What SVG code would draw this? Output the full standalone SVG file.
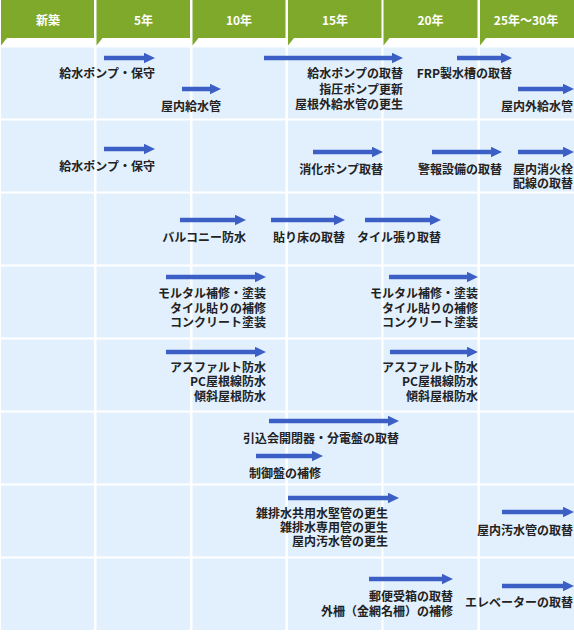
<svg xmlns="http://www.w3.org/2000/svg" width="574" height="632" viewBox="0 0 574 632">
<style>
.hd{fill:#7fa92b}
.cell{fill:#e2f0fd}
.ht{font-family:"Noto Sans CJK JP","Noto Sans",sans-serif;font-size:12px;font-weight:700;fill:#fff;text-anchor:middle}
.lb{font-family:"Noto Sans CJK JP","Noto Sans",sans-serif;font-size:12px;font-weight:700;fill:#222;text-anchor:end}
.ar{stroke:#3b5fc4;stroke-width:4.5;fill:none;marker-end:url(#ah)}
</style>
<defs>
<marker id="ah" markerUnits="userSpaceOnUse" markerWidth="11" markerHeight="11" refX="0" refY="5.25" orient="auto">
<path d="M0,0 L11,5.25 L0,10.5 z" fill="#3b5fc4"/>
</marker>
</defs>
<rect width="574" height="632" fill="#fff"/>
<g id="header">
<rect class="hd" x="1" y="0" width="93" height="38"/>
<rect class="hd" x="96.5" y="0" width="93.5" height="38"/>
<rect class="hd" x="192.5" y="0" width="93" height="38"/>
<rect class="hd" x="288" y="0" width="93.5" height="38"/>
<rect class="hd" x="383.5" y="0" width="94" height="38"/>
<rect class="hd" x="480" y="0" width="94" height="38"/>
<path class="hd" d="M1,38 h6 l-6,7.5 z M96.5,38 h6 l-6,7.5 z M192.5,38 h6 l-6,7.5 z M288,38 h6 l-6,7.5 z M383.5,38 h6 l-6,7.5 z M480,38 h6 l-6,7.5 z"/>
<text class="ht" x="48" y="25">新築</text>
<text class="ht" x="143.5" y="25">5年</text>
<text class="ht" x="239" y="25">10年</text>
<text class="ht" x="335" y="25">15年</text>
<text class="ht" x="430.5" y="25">20年</text>
<text class="ht" x="526" y="25">25年～30年</text>
</g>
<g id="grid">
<g id="row1"><rect class="cell" x="1" y="47.5" width="93" height="71"/><rect class="cell" x="96.5" y="47.5" width="93.5" height="71"/><rect class="cell" x="192.5" y="47.5" width="93" height="71"/><rect class="cell" x="288" y="47.5" width="93.5" height="71"/><rect class="cell" x="383.5" y="47.5" width="94" height="71"/><rect class="cell" x="480" y="47.5" width="94" height="71"/></g>
<g id="row2"><rect class="cell" x="1" y="120.5" width="93" height="71"/><rect class="cell" x="96.5" y="120.5" width="93.5" height="71"/><rect class="cell" x="192.5" y="120.5" width="93" height="71"/><rect class="cell" x="288" y="120.5" width="93.5" height="71"/><rect class="cell" x="383.5" y="120.5" width="94" height="71"/><rect class="cell" x="480" y="120.5" width="94" height="71"/></g>
<g id="row3"><rect class="cell" x="1" y="193.5" width="93" height="71"/><rect class="cell" x="96.5" y="193.5" width="93.5" height="71"/><rect class="cell" x="192.5" y="193.5" width="93" height="71"/><rect class="cell" x="288" y="193.5" width="93.5" height="71"/><rect class="cell" x="383.5" y="193.5" width="94" height="71"/><rect class="cell" x="480" y="193.5" width="94" height="71"/></g>
<g id="row4"><rect class="cell" x="1" y="266.5" width="93" height="71"/><rect class="cell" x="96.5" y="266.5" width="93.5" height="71"/><rect class="cell" x="192.5" y="266.5" width="93" height="71"/><rect class="cell" x="288" y="266.5" width="93.5" height="71"/><rect class="cell" x="383.5" y="266.5" width="94" height="71"/><rect class="cell" x="480" y="266.5" width="94" height="71"/></g>
<g id="row5"><rect class="cell" x="1" y="339.5" width="93" height="71"/><rect class="cell" x="96.5" y="339.5" width="93.5" height="71"/><rect class="cell" x="192.5" y="339.5" width="93" height="71"/><rect class="cell" x="288" y="339.5" width="93.5" height="71"/><rect class="cell" x="383.5" y="339.5" width="94" height="71"/><rect class="cell" x="480" y="339.5" width="94" height="71"/></g>
<g id="row6"><rect class="cell" x="1" y="412.5" width="93" height="71"/><rect class="cell" x="96.5" y="412.5" width="93.5" height="71"/><rect class="cell" x="192.5" y="412.5" width="93" height="71"/><rect class="cell" x="288" y="412.5" width="93.5" height="71"/><rect class="cell" x="383.5" y="412.5" width="94" height="71"/><rect class="cell" x="480" y="412.5" width="94" height="71"/></g>
<g id="row7"><rect class="cell" x="1" y="485.5" width="93" height="71"/><rect class="cell" x="96.5" y="485.5" width="93.5" height="71"/><rect class="cell" x="192.5" y="485.5" width="93" height="71"/><rect class="cell" x="288" y="485.5" width="93.5" height="71"/><rect class="cell" x="383.5" y="485.5" width="94" height="71"/><rect class="cell" x="480" y="485.5" width="94" height="71"/></g>
<g id="row8"><rect class="cell" x="1" y="558.5" width="93" height="71.5"/><rect class="cell" x="96.5" y="558.5" width="93.5" height="71.5"/><rect class="cell" x="192.5" y="558.5" width="93" height="71.5"/><rect class="cell" x="288" y="558.5" width="93.5" height="71.5"/><rect class="cell" x="383.5" y="558.5" width="94" height="71.5"/><rect class="cell" x="480" y="558.5" width="94" height="71.5"/></g>
</g>
<g id="connectors">
<line class="ar" x1="104" y1="58" x2="144" y2="58"/>
<line class="ar" x1="182" y1="89" x2="210" y2="89"/>
<line class="ar" x1="264" y1="58" x2="392" y2="58"/>
<line class="ar" x1="457" y1="58" x2="501" y2="58"/>
<line class="ar" x1="518" y1="89" x2="563" y2="89"/>
<line class="ar" x1="104" y1="149" x2="144" y2="149"/>
<line class="ar" x1="313" y1="152" x2="372" y2="152"/>
<line class="ar" x1="432" y1="152" x2="491" y2="152"/>
<line class="ar" x1="518" y1="152" x2="563" y2="152"/>
<line class="ar" x1="180" y1="220" x2="235" y2="220"/>
<line class="ar" x1="271" y1="220" x2="334" y2="220"/>
<line class="ar" x1="365" y1="220" x2="430" y2="220"/>
<line class="ar" x1="166" y1="277" x2="255" y2="277"/>
<line class="ar" x1="389" y1="277" x2="467" y2="277"/>
<line class="ar" x1="166" y1="352" x2="255" y2="352"/>
<line class="ar" x1="390" y1="352" x2="467" y2="352"/>
<line class="ar" x1="269" y1="421" x2="388" y2="421"/>
<line class="ar" x1="256" y1="456" x2="312" y2="456"/>
<line class="ar" x1="288" y1="498" x2="388" y2="498"/>
<line class="ar" x1="502" y1="512" x2="563" y2="512"/>
<line class="ar" x1="369" y1="579" x2="442" y2="579"/>
<line class="ar" x1="502" y1="586" x2="563" y2="586"/>
</g>
<g id="labels">
<g id="n1"><text class="lb" x="155" y="78">給水ポンプ・保守</text></g>
<g id="n2"><text class="lb" x="221" y="111">屋内給水管</text></g>
<g id="n3"><text class="lb" x="403" y="78">給水ポンプの取替</text><text class="lb" x="403" y="93.5">指圧ポンプ更新</text><text class="lb" x="403" y="109">屋根外給水管の更生</text></g>
<g id="n4"><text class="lb" x="512" y="78">FRP製水槽の取替</text></g>
<g id="n5"><text class="lb" x="573" y="110.5">屋内外給水管</text></g>
<g id="n6"><text class="lb" x="155" y="171">給水ポンプ・保守</text></g>
<g id="n7"><text class="lb" x="383" y="173.5">消化ポンプ取替</text></g>
<g id="n8"><text class="lb" x="502" y="173.5">警報設備の取替</text></g>
<g id="n9"><text class="lb" x="573" y="173.5">屋内消火栓</text><text class="lb" x="573" y="188">配線の取替</text></g>
<g id="n10"><text class="lb" x="246" y="241.5">バルコニー防水</text></g>
<g id="n11"><text class="lb" x="345" y="241.5">貼り床の取替</text></g>
<g id="n12"><text class="lb" x="441" y="241.5">タイル張り取替</text></g>
<g id="n13"><text class="lb" x="266" y="297.5">モルタル補修・塗装</text><text class="lb" x="266" y="312.5">タイル貼りの補修</text><text class="lb" x="266" y="327">コンクリート塗装</text></g>
<g id="n14"><text class="lb" x="478" y="297.5">モルタル補修・塗装</text><text class="lb" x="478" y="312.5">タイル貼りの補修</text><text class="lb" x="478" y="327">コンクリート塗装</text></g>
<g id="n15"><text class="lb" x="266" y="371.5">アスファルト防水</text><text class="lb" x="266" y="386">PC屋根線防水</text><text class="lb" x="266" y="401">傾斜屋根防水</text></g>
<g id="n16"><text class="lb" x="478" y="371.5">アスファルト防水</text><text class="lb" x="478" y="386">PC屋根線防水</text><text class="lb" x="478" y="401">傾斜屋根防水</text></g>
<g id="n17"><text class="lb" x="399" y="442.5">引込会開閉器・分電盤の取替</text></g>
<g id="n18"><text class="lb" x="321" y="478">制御盤の補修</text></g>
<g id="n19"><text class="lb" x="388" y="517.5">雑排水共用水堅管の更生</text><text class="lb" x="388" y="531.5">雑排水専用管の更生</text><text class="lb" x="388" y="546">屋内汚水管の更生</text></g>
<g id="n20"><text class="lb" x="573" y="535">屋内汚水管の取替</text></g>
<g id="n21"><text class="lb" x="453" y="601">郵便受箱の取替</text><text class="lb" x="453" y="615.5">外柵（金網名柵）の補修</text></g>
<g id="n22"><text class="lb" x="573" y="607">エレベーターの取替</text></g>
</g>
</svg>
